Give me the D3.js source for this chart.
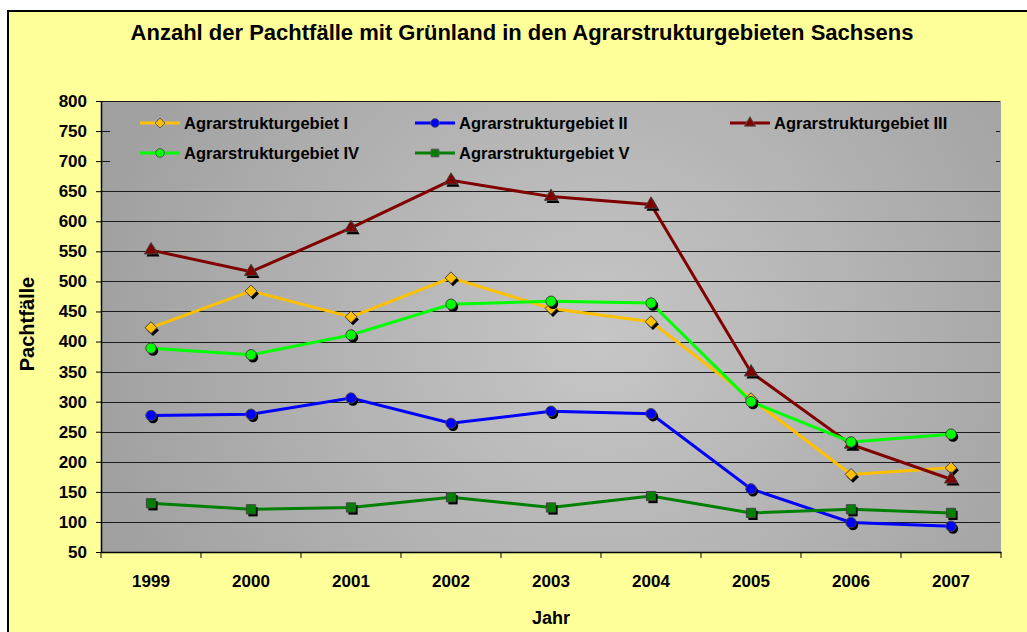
<!DOCTYPE html>
<meta charset="utf-8">
<script src="https://d3js.org/d3.v7.min.js"></script>
<style>
  body { margin: 0; background: #fff; }
  text { font-family: "Liberation Sans", Arial, sans-serif; font-weight: bold; }
</style>
<div id="chart"></div>
<script>

// data
var years = ["1999", "2000", "2001", "2002", "2003", "2004", "2005", "2006", "2007"];
var gebiet1 = [423, 484, 441, 506, 455, 433, 305, 179, 190];
var gebiet2 = [277, 279, 306, 264, 284, 280, 155, 99, 93];
var gebiet3 = [552, 516, 589, 668, 641, 628, 349, 229, 171];
var gebiet4 = [389, 378, 411, 462, 467, 464, 300, 233, 246];
var gebiet5 = [131, 121, 124, 141, 124, 143, 115, 121, 115];
var seriesNames = ["Agrarstrukturgebiet I", "Agrarstrukturgebiet II", "Agrarstrukturgebiet III",
                   "Agrarstrukturgebiet IV", "Agrarstrukturgebiet V"];
var yTicks = [50, 100, 150, 200, 250, 300, 350, 400, 450, 500, 550, 600, 650, 700, 750, 800];

// square turned by 45 degrees, like the Excel diamond
var squareDiamond = {
  draw: function(context, size) {
    var r = Math.sqrt(size) / Math.SQRT2;
    context.moveTo(0, -r);
    context.lineTo(r, 0);
    context.lineTo(0, r);
    context.lineTo(-r, 0);
    context.closePath();
  }
};

var series = [
  {name: seriesNames[0], values: gebiet1, color: "#ffc000", symbol: squareDiamond, size: 70},
  {name: seriesNames[1], values: gebiet2, color: "#0000ff", symbol: d3.symbolCircle, size: 85},
  {name: seriesNames[2], values: gebiet3, color: "#800000", symbol: d3.symbolTriangle, size: 75},
  {name: seriesNames[3], values: gebiet4, color: "#00ff00", symbol: d3.symbolCircle, size: 85},
  {name: seriesNames[4], values: gebiet5, color: "#008000", symbol: d3.symbolSquare, size: 85}
];

var W = 1027, H = 632;
var plot = {left: 101, right: 1001, top: 101, bottom: 552};

var svg = d3.select("#chart").append("svg")
    .attr("width", W)
    .attr("height", H);

// chart area
svg.append("rect")
    .attr("x", 8).attr("y", 11)
    .attr("width", W + 10).attr("height", H + 10)
    .attr("fill", "#ffff99")
    .attr("stroke", "#000")
    .attr("stroke-width", 2);

// gradient for plot area (shared by plot and legend so there is no seam)
var defs = svg.append("defs");
var grad = defs.append("radialGradient")
    .attr("id", "plotGrad")
    .attr("gradientUnits", "userSpaceOnUse")
    .attr("cx", 600).attr("cy", 340).attr("r", 520);
grad.append("stop").attr("offset", "0%").attr("stop-color", "#c6c6c6");
grad.append("stop").attr("offset", "100%").attr("stop-color", "#a0a0a0");

svg.append("rect")
    .attr("x", plot.left).attr("y", plot.top)
    .attr("width", plot.right - plot.left).attr("height", plot.bottom - plot.top)
    .attr("fill", "url(#plotGrad)");

// scales
var x = d3.scaleBand()
    .domain(years)
    .range([plot.left, plot.right])
    .padding(0);

var y = d3.scaleLinear()
    .domain([50, 800])
    .range([plot.bottom, plot.top]);

function cx(i) { return x(years[i]) + x.bandwidth() / 2; }

// gridlines
svg.append("g")
  .selectAll("line")
  .data(yTicks.slice(1))
  .enter().append("line")
    .attr("x1", plot.left).attr("x2", plot.right - 1)
    .attr("y1", function(d) { return Math.round(y(d)) + 0.5; })
    .attr("y2", function(d) { return Math.round(y(d)) + 0.5; })
    .attr("stroke", "#1a1a1a")
    .attr("stroke-width", 1);

// legend box (covers top gridlines)
var legend = svg.append("g");
legend.append("rect")
    .attr("x", 110).attr("y", 104)
    .attr("width", 886).attr("height", 66)
    .attr("fill", "url(#plotGrad)");

// Y axis
var yAxis = svg.append("g")
    .attr("transform", "translate(" + plot.left + ",0)")
    .call(d3.axisLeft(y).tickValues(yTicks).tickSize(5).tickSizeOuter(0));
yAxis.select(".domain").attr("stroke", "#000").attr("stroke-width", 1.5);
yAxis.selectAll(".tick line").attr("stroke", "#000");
yAxis.selectAll(".tick text")
    .attr("x", -14)
    .attr("font-size", 17)
    .attr("font-family", "Liberation Sans, Arial, sans-serif")
    .attr("fill", "#000");

// X axis
var xAxis = svg.append("g")
    .attr("transform", "translate(0," + plot.bottom + ")")
    .call(d3.axisBottom(x).tickSize(0).tickSizeOuter(0));
xAxis.select(".domain").attr("stroke", "#000").attr("stroke-width", 1.5);
xAxis.selectAll(".tick text")
    .attr("y", 23)
    .attr("font-size", 17)
    .attr("font-family", "Liberation Sans, Arial, sans-serif")
    .attr("fill", "#000");

// tick marks between categories
var bounds = years.map(function(d) { return x(d); }).concat([plot.right]);
xAxis.selectAll(".sep")
  .data(bounds)
  .enter().append("line")
    .attr("class", "sep")
    .attr("x1", function(d) { return d; }).attr("x2", function(d) { return d; })
    .attr("y1", 0).attr("y2", 6)
    .attr("stroke", "#000");

// lines and markers
var line = d3.line()
    .x(function(d, i) { return cx(i); })
    .y(function(d) { return y(d); });

var lines = svg.append("g");
series.forEach(function(s) {
  lines.append("path")
    .datum(s.values)
    .attr("fill", "none")
    .attr("stroke", s.color)
    .attr("stroke-width", 3)
    .attr("d", line);
});

series.forEach(function(s) {
  var g = svg.append("g");
  var sym = d3.symbol().type(s.symbol).size(s.size);
  // shadow
  g.selectAll(".shadow")
    .data(s.values)
    .enter().append("path")
      .attr("class", "shadow")
      .attr("d", sym)
      .attr("transform", function(d, i) { return "translate(" + (cx(i) + 2) + "," + (y(d) + 2.5) + ")"; })
      .attr("fill", "#000");
  g.selectAll(".mark")
    .data(s.values)
    .enter().append("path")
      .attr("class", "mark")
      .attr("d", sym)
      .attr("transform", function(d, i) { return "translate(" + cx(i) + "," + y(d) + ")"; })
      .attr("fill", s.color)
      .attr("stroke", "#444")
      .attr("stroke-width", 1);
});

// legend entries
var legendPos = [[140, 123], [415, 123], [730, 123], [140, 153], [415, 153]];
series.forEach(function(s, i) {
  var p = legendPos[i];
  var e = legend.append("g").attr("transform", "translate(" + p[0] + "," + p[1] + ")");
  e.append("line")
    .attr("x1", 0).attr("x2", 40)
    .attr("stroke", s.color)
    .attr("stroke-width", 3);
  e.append("path")
    .attr("d", d3.symbol().type(s.symbol).size(s.size * 0.7))
    .attr("transform", "translate(20,0)")
    .attr("fill", s.color)
    .attr("stroke", "#555")
    .attr("stroke-width", 1);
  e.append("text")
    .attr("x", 44)
    .attr("dy", "0.35em")
    .attr("font-size", 16.5)
    .text(s.name);
});

// title
svg.append("text")
    .attr("x", 522).attr("y", 40)
    .attr("text-anchor", "middle")
    .attr("font-size", 22)
    .text("Anzahl der Pachtfälle mit Grünland in den Agrarstrukturgebieten Sachsens");

// axis titles
svg.append("text")
    .attr("x", 551).attr("y", 624)
    .attr("text-anchor", "middle")
    .attr("font-size", 18)
    .text("Jahr");

svg.append("text")
    .attr("transform", "translate(34,324) rotate(-90)")
    .attr("text-anchor", "middle")
    .attr("font-size", 20)
    .text("Pachtfälle");

</script>
